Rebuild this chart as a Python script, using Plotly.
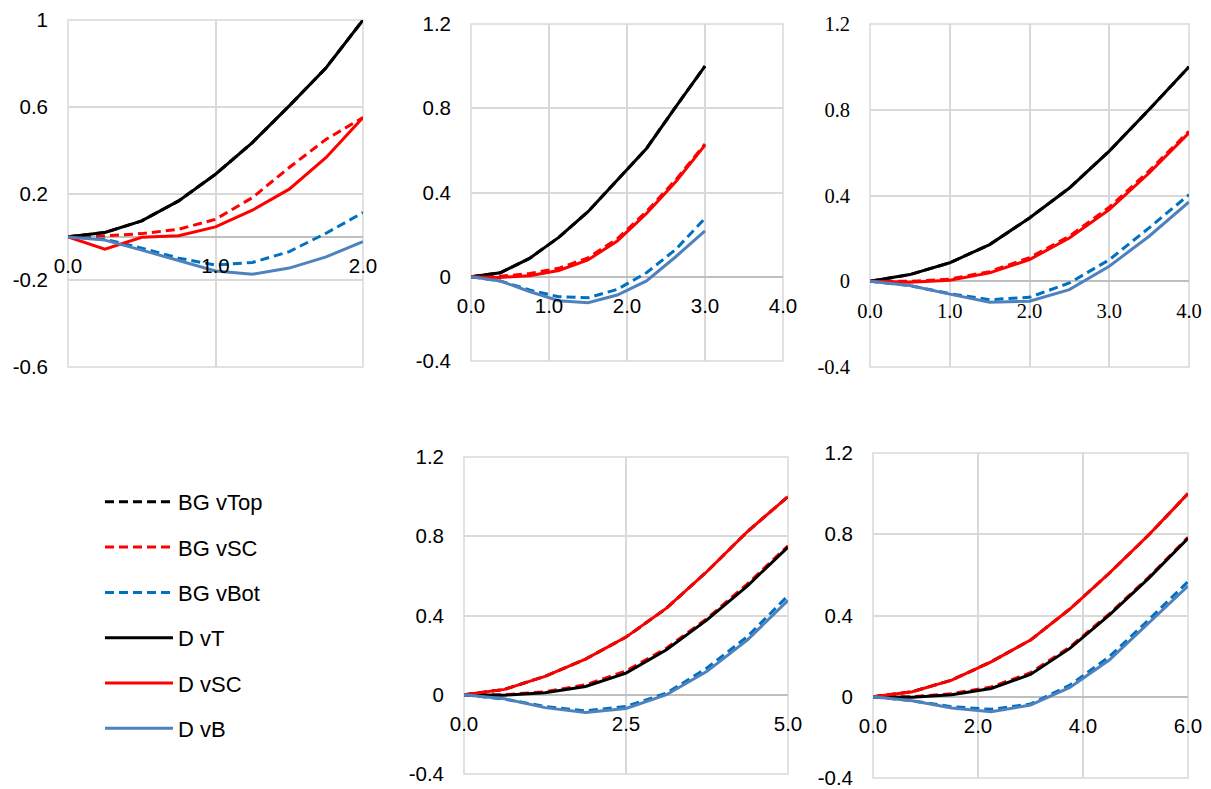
import plotly.graph_objects as go

# Viewport is 1211x789; the page body has an 8px margin, so the figure is
# sized to fill what remains and all pixel positions are shifted by 8px.
VIEW_W, VIEW_H = 1211, 789
OFF = 8
W, H = VIEW_W - OFF, VIEW_H - OFF

series_names = ["BG vTop", "BG vSC", "BG vBot", "D vT", "D vSC", "D vB"]
series_colors = ["#000000", "#FF0000", "#0070C0", "#000000", "#FF0000", "#4F81BD"]
series_dash = ["9px,5px", "9px,5px", "9px,5px", "solid", "solid", "solid"]

# Panel 1 (span 2.0)
p1_x = [0, 0.25, 0.5, 0.75, 1.0, 1.25, 1.5, 1.75, 2.0]
p1_bg_vtop = [0, 0.02, 0.074, 0.166, 0.289, 0.435, 0.604, 0.78, 1.0]
p1_bg_vsc = [0, 0.005, 0.015, 0.035, 0.081, 0.181, 0.32, 0.45, 0.55]
p1_bg_vbot = [0, -0.011, -0.052, -0.098, -0.13, -0.118, -0.068, 0.017, 0.112]
p1_d_vt = [0, 0.02, 0.074, 0.166, 0.289, 0.435, 0.604, 0.78, 1.0]
p1_d_vsc = [0, -0.057, -0.002, 0.005, 0.046, 0.123, 0.22, 0.366, 0.55]
p1_d_vb = [0, -0.015, -0.061, -0.11, -0.157, -0.172, -0.144, -0.092, -0.022]

# Panel 2 (span 3.0)
p2_x = [0, 0.375, 0.75, 1.125, 1.5, 1.875, 2.25, 2.625, 3.0]
p2_bg_vtop = [0, 0.019, 0.087, 0.187, 0.309, 0.459, 0.609, 0.807, 1.0]
p2_bg_vsc = [0, 0.002, 0.015, 0.04, 0.09, 0.18, 0.31, 0.46, 0.63]
p2_bg_vbot = [0, -0.02, -0.063, -0.095, -0.1, -0.06, 0.019, 0.13, 0.277]
p2_d_vt = [0, 0.019, 0.087, 0.187, 0.309, 0.459, 0.609, 0.807, 1.0]
p2_d_vsc = [0, -0.003, 0.005, 0.03, 0.08, 0.17, 0.3, 0.451, 0.625]
p2_d_vb = [0, -0.02, -0.07, -0.114, -0.123, -0.087, -0.02, 0.095, 0.218]

# Panel 3 (span 4.0)
p3_x = [0, 0.5, 1.0, 1.5, 2.0, 2.5, 3.0, 3.5, 4.0]
p3_bg_vtop = [0, 0.031, 0.086, 0.171, 0.295, 0.435, 0.607, 0.801, 1.0]
p3_bg_vsc = [0, 0.0, 0.01, 0.045, 0.11, 0.21, 0.345, 0.515, 0.7]
p3_bg_vbot = [0, -0.02, -0.058, -0.086, -0.075, -0.008, 0.1, 0.249, 0.404]
p3_d_vt = [0, 0.031, 0.086, 0.171, 0.295, 0.435, 0.607, 0.801, 1.0]
p3_d_vsc = [0, -0.005, 0.005, 0.039, 0.101, 0.202, 0.334, 0.505, 0.692]
p3_d_vb = [0, -0.02, -0.06, -0.098, -0.093, -0.039, 0.07, 0.21, 0.37]

# Panel 4 (span 5.0)
p4_x = [0, 0.625, 1.25, 1.875, 2.5, 3.125, 3.75, 4.375, 5.0]
p4_bg_vtop = [0, 0.027, 0.093, 0.18, 0.291, 0.437, 0.622, 0.824, 1.0]
p4_bg_vsc = [0, 0.0, 0.015, 0.05, 0.12, 0.235, 0.385, 0.56, 0.752]
p4_bg_vbot = [0, -0.022, -0.059, -0.081, -0.059, 0.008, 0.135, 0.294, 0.5]
p4_d_vt = [0, -0.002, 0.01, 0.042, 0.109, 0.227, 0.378, 0.55, 0.745]
p4_d_vsc = [0, 0.027, 0.093, 0.18, 0.291, 0.437, 0.622, 0.824, 1.0]
p4_d_vb = [0, -0.02, -0.065, -0.089, -0.069, 0.0, 0.118, 0.277, 0.476]

# Panel 5 (span 6.0)
p5_x = [0, 0.75, 1.5, 2.25, 3.0, 3.75, 4.5, 5.25, 6.0]
p5_bg_vtop = [0, 0.025, 0.082, 0.172, 0.279, 0.432, 0.608, 0.796, 1.0]
p5_bg_vsc = [0, 0.0, 0.015, 0.048, 0.118, 0.245, 0.408, 0.588, 0.785]
p5_bg_vbot = [0, -0.02, -0.049, -0.062, -0.036, 0.057, 0.197, 0.378, 0.567]
p5_d_vt = [0, -0.002, 0.01, 0.041, 0.11, 0.238, 0.402, 0.583, 0.78]
p5_d_vsc = [0, 0.025, 0.082, 0.172, 0.279, 0.432, 0.608, 0.796, 1.0]
p5_d_vb = [0, -0.02, -0.055, -0.074, -0.041, 0.046, 0.181, 0.361, 0.545]

# Axis ticks
p1_yticks = [-0.6, -0.2, 0.2, 0.6, 1.0]
p1_xticks = [0.0, 1.0, 2.0]
p2_yticks = [-0.4, 0.0, 0.4, 0.8, 1.2]
p2_xticks = [0.0, 1.0, 2.0, 3.0, 4.0]
p3_yticks = [-0.4, 0.0, 0.4, 0.8, 1.2]
p3_xticks = [0.0, 1.0, 2.0, 3.0, 4.0]
p4_yticks = [-0.4, 0.0, 0.4, 0.8, 1.2]
p4_xticks = [0.0, 2.5, 5.0]
p5_yticks = [-0.4, 0.0, 0.4, 0.8, 1.2]
p5_xticks = [0.0, 2.0, 4.0, 6.0]

SANS = "Liberation Sans, Arial"
SERIF = "Liberation Serif, Times New Roman"

panels = [
    dict(x=p1_x, ys=[p1_bg_vtop, p1_bg_vsc, p1_bg_vbot, p1_d_vt, p1_d_vsc, p1_d_vb],
         box=(68, 20, 363, 367), yr=(-0.6, 1.0), xr=(0, 2), yt=p1_yticks, xt=p1_xticks, font=SANS),
    dict(x=p2_x, ys=[p2_bg_vtop, p2_bg_vsc, p2_bg_vbot, p2_d_vt, p2_d_vsc, p2_d_vb],
         box=(471, 24, 783, 361), yr=(-0.4, 1.2), xr=(0, 4), yt=p2_yticks, xt=p2_xticks, font=SANS),
    dict(x=p3_x, ys=[p3_bg_vtop, p3_bg_vsc, p3_bg_vbot, p3_d_vt, p3_d_vsc, p3_d_vb],
         box=(870, 24, 1189, 367), yr=(-0.4, 1.2), xr=(0, 4), yt=p3_yticks, xt=p3_xticks, font=SERIF),
    dict(x=p4_x, ys=[p4_bg_vtop, p4_bg_vsc, p4_bg_vbot, p4_d_vt, p4_d_vsc, p4_d_vb],
         box=(464, 457, 788, 774), yr=(-0.4, 1.2), xr=(0, 5), yt=p4_yticks, xt=p4_xticks, font=SANS),
    dict(x=p5_x, ys=[p5_bg_vtop, p5_bg_vsc, p5_bg_vbot, p5_d_vt, p5_d_vsc, p5_d_vb],
         box=(873, 453, 1188, 778), yr=(-0.4, 1.2), xr=(0, 6), yt=p5_yticks, xt=p5_xticks, font=SANS),
]

GRID = "#D9D9D9"
AXIS = "#BFBFBF"


def px_x(v):
    return (v - OFF) / W


def px_y(v):
    return 1 - (v - OFF) / H


fig = go.Figure()
shapes = []
layout = dict(
    width=W, height=H, margin=dict(l=0, r=0, t=0, b=0, autoexpand=False),
    paper_bgcolor="white", plot_bgcolor="white",
    showlegend=True,
    legend=dict(x=px_x(100), y=px_y(481), xanchor="left", yanchor="top",
                font=dict(family=SANS, size=22, color="black"),
                traceorder="grouped", tracegroupgap=13.7, itemwidth=68,
                bgcolor="rgba(0,0,0,0)"),
)

for i, p in enumerate(panels):
    k = "" if i == 0 else str(i + 1)
    x0, y0, x1, y1 = p["box"]
    ymin, ymax = p["yr"]
    ydom = [px_y(y1), px_y(y0)]
    xdom = [px_x(x0), px_x(x1)]
    zero_pos = ydom[0] + (0 - ymin) / (ymax - ymin) * (ydom[1] - ydom[0])
    for j in range(6):
        fig.add_trace(go.Scatter(
            x=p["x"], y=p["ys"][j], mode="lines", name=series_names[j],
            legendgroup=series_names[j], showlegend=(i == 0),
            line=dict(color=series_colors[j], width=3, dash=series_dash[j]),
            xaxis="x" + k, yaxis="y" + k,
        ))
    tf = dict(family=p["font"], size=20.5, color="black")
    layout["xaxis" + k] = dict(
        domain=xdom, range=list(p["xr"]),
        tickmode="array", tickvals=p["xt"], ticktext=[f"{v:.1f}" for v in p["xt"]],
        showgrid=True, gridcolor=GRID, gridwidth=1.5, zeroline=False, showline=False,
        anchor="free", position=zero_pos, ticks="", ticklabelstandoff=15,
        tickfont=tf, fixedrange=True, automargin=False, ticklabeloverflow="allow",
    )
    layout["yaxis" + k] = dict(
        domain=ydom, range=[ymin, ymax],
        tickmode="array", tickvals=p["yt"], ticktext=[f"{v:g}" for v in p["yt"]],
        showgrid=True, gridcolor=GRID, gridwidth=1.5,
        zeroline=True, zerolinecolor=AXIS, zerolinewidth=1.5, showline=False,
        anchor="x" + k, ticks="", ticklabelstandoff=19, tickfont=tf,
        fixedrange=True, automargin=False, ticklabeloverflow="allow",
    )
    shapes.append(dict(type="rect", xref="x" + k + " domain", yref="y" + k + " domain",
                       x0=0, x1=1, y0=0, y1=1, line=dict(color=GRID, width=1.5),
                       layer="below"))

layout["shapes"] = shapes
fig.update_layout(**layout)
fig.write_html("out.html")
